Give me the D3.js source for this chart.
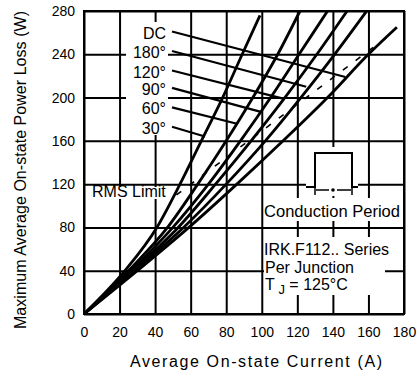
<!DOCTYPE html>
<html>
<head>
<meta charset="utf-8">
<script src="https://cdn.jsdelivr.net/npm/d3@7"></script>
<style>
  body { margin: 0; background: #fff; }
  text { font-family: "Liberation Sans", Arial, sans-serif; fill: #000; }
</style>
</head>
<body>
<svg></svg>
<script>
// tick values
let currentTicks = [0, 20, 40, 60, 80, 100, 120, 140, 160, 180]
let powerTicks = [0, 40, 80, 120, 160, 200, 240, 280]

// each curve is [current (A), power (W)]
let curveNames = ['DC', '180°', '120°', '90°', '60°', '30°']
let dcCurve = [[0, 0], [30, 40], [59, 80], [86, 120], [112, 160], [137, 200], [160, 240], [176, 265]]
let deg180Curve = [[0, 0], [28.5, 40], [56, 80], [80, 120], [102, 160], [122, 200], [141, 240], [159, 280]]
let deg120Curve = [[0, 0], [27.5, 40], [53, 80], [74, 120], [94, 160], [113, 200], [131, 240], [148, 280]]
let deg90Curve = [[0, 0], [26.5, 40], [50, 80], [70, 120], [88, 160], [105, 200], [121, 240], [137, 280]]
let deg60Curve = [[0, 0], [25, 40], [47, 80], [64, 120], [80, 160], [95, 200], [109, 240], [121.5, 280]]
let deg30Curve = [[0, 0], [23, 40], [41, 80], [54, 120], [66, 160], [78, 200], [89, 240], [99, 276]]
let curves = [dcCurve, deg180Curve, deg120Curve, deg90Curve, deg60Curve, deg30Curve]

// where each label pointer leaves the label and where it hits its curve (A, W)
let pointerStart = [[49.5, 261], [49.5, 243], [49.5, 225], [49.5, 209], [49.5, 191], [49.5, 173]]
let pointerEnd = [[147, 219], [125, 210], [112, 199], [99, 187], [85.5, 176], [68, 164]]

// dashed rms limit line (A, W)
let rmsLimit = [[52, 110], [170.5, 256]]

let width = 419
let height = 374
let plotLeft = 84
let plotRight = 404
let plotTop = 11
let plotBottom = 314

let svg = d3.select('svg')
    .attr('width', width)
    .attr('height', height)

let xScale = d3.scaleLinear().domain([0, 180]).range([plotLeft, plotRight])
let yScale = d3.scaleLinear().domain([0, 280]).range([plotBottom, plotTop])

// grid lines
svg.append('g')
    .attr('transform', 'translate(0,' + plotBottom + ')')
    .call(d3.axisBottom(xScale).tickValues(currentTicks).tickSize(-(plotBottom - plotTop)).tickFormat(''))
    .call(g => g.select('.domain').remove())
    .selectAll('line').attr('stroke', '#000').attr('stroke-width', 2)

svg.append('g')
    .attr('transform', 'translate(' + plotLeft + ',0)')
    .call(d3.axisLeft(yScale).tickValues(powerTicks).tickSize(-(plotRight - plotLeft)).tickFormat(''))
    .call(g => g.select('.domain').remove())
    .selectAll('line').attr('stroke', '#000').attr('stroke-width', 2)

// white patches where the labels sit over the grid
let patches = [
    [126, 22, 42, 113],
    [90, 187, 80, 12],
    [306, 147, 52, 49],
    [264, 198, 138, 23],
    [264, 237, 121, 58]
]
svg.selectAll('rect.patch')
    .data(patches)
    .enter()
    .append('rect')
    .attr('class', 'patch')
    .attr('x', d => d[0])
    .attr('y', d => d[1])
    .attr('width', d => d[2])
    .attr('height', d => d[3])
    .attr('fill', '#fff')

// frame
svg.append('rect')
    .attr('x', plotLeft)
    .attr('y', plotTop)
    .attr('width', plotRight - plotLeft)
    .attr('height', plotBottom - plotTop)
    .attr('fill', 'none')
    .attr('stroke', '#000')
    .attr('stroke-width', 2)

// tick labels
svg.append('g')
    .attr('transform', 'translate(0,' + plotBottom + ')')
    .call(d3.axisBottom(xScale).tickValues(currentTicks).tickSize(0).tickPadding(13))
    .call(g => g.select('.domain').remove())
    .selectAll('text')
    .attr('font-size', 14)
    .attr('font-family', '"Liberation Sans", Arial, sans-serif')

svg.append('g')
    .attr('transform', 'translate(' + plotLeft + ',0)')
    .call(d3.axisLeft(yScale).tickValues(powerTicks).tickSize(0).tickPadding(9))
    .call(g => g.select('.domain').remove())
    .selectAll('text')
    .attr('font-size', 14)
    .attr('font-family', '"Liberation Sans", Arial, sans-serif')

// the curves
let line = d3.line()
    .x(d => xScale(d[0]))
    .y(d => yScale(d[1]))
    .curve(d3.curveMonotoneX)

svg.selectAll('path.curve')
    .data(curves)
    .enter()
    .append('path')
    .attr('class', 'curve')
    .attr('d', line)
    .attr('fill', 'none')
    .attr('stroke', '#000')
    .attr('stroke-width', 2.8)

// rms limit
svg.append('path')
    .attr('d', d3.line().x(d => xScale(d[0])).y(d => yScale(d[1]))(rmsLimit))
    .attr('fill', 'none')
    .attr('stroke', '#000')
    .attr('stroke-width', 1.6)
    .attr('stroke-dasharray', '6,10')

// label pointers
svg.selectAll('line.pointer')
    .data(curveNames)
    .enter()
    .append('line')
    .attr('class', 'pointer')
    .attr('x1', (d, i) => xScale(pointerStart[i][0]))
    .attr('y1', (d, i) => yScale(pointerStart[i][1]))
    .attr('x2', (d, i) => xScale(pointerEnd[i][0]))
    .attr('y2', (d, i) => yScale(pointerEnd[i][1]))
    .attr('stroke', '#000')
    .attr('stroke-width', 2.2)

svg.selectAll('text.curveName')
    .data(curveNames)
    .enter()
    .append('text')
    .attr('class', 'curveName')
    .attr('x', (d, i) => xScale(pointerStart[i][0]) - 6)
    .attr('y', (d, i) => yScale(pointerStart[i][1]) + 7)
    .attr('text-anchor', 'end')
    .attr('font-size', 16)
    .text(d => d)

svg.append('text')
    .attr('x', 92)
    .attr('y', 197)
    .attr('font-size', 16)
    .text('RMS Limit')

// conduction period pulse
svg.append('path')
    .attr('d', 'M306,187 H315 V153 H352 V187 H358')
    .attr('fill', 'none')
    .attr('stroke', '#000')
    .attr('stroke-width', 2)
svg.append('path')
    .attr('d', 'M315,185 V195 M352,185 V195 M316,190 H329 M337,190 H351')
    .attr('fill', 'none')
    .attr('stroke', '#000')
    .attr('stroke-width', 1.5)
svg.append('circle')
    .attr('cx', 333)
    .attr('cy', 190)
    .attr('r', 1.8)
    .attr('fill', '#000')

svg.append('text')
    .attr('x', 264)
    .attr('y', 217)
    .attr('font-size', 16)
    .attr('textLength', 136)
    .attr('lengthAdjust', 'spacingAndGlyphs')
    .text('Conduction Period')

let info = svg.append('text')
    .attr('font-size', 16)
info.append('tspan').attr('x', 264).attr('y', 255).text('IRK.F112.. Series')
info.append('tspan').attr('x', 265).attr('y', 273).text('Per Junction')
info.append('tspan').attr('x', 265).attr('y', 290).text('T')
info.append('tspan').attr('dy', 4).attr('font-size', 13).text(' J')
info.append('tspan').attr('dy', -4).text(' = 125°C')

// axis titles
svg.append('text')
    .attr('x', 256)
    .attr('y', 367)
    .attr('text-anchor', 'middle')
    .attr('font-size', 16)
    .attr('textLength', 252)
    .text('Average On-state Current (A)')

svg.append('text')
    .attr('transform', 'translate(26,170) rotate(-90)')
    .attr('text-anchor', 'middle')
    .attr('font-size', 16)
    .attr('textLength', 318)
    .text('Maximum Average On-state Power Loss (W)')
</script>
</body>
</html>
